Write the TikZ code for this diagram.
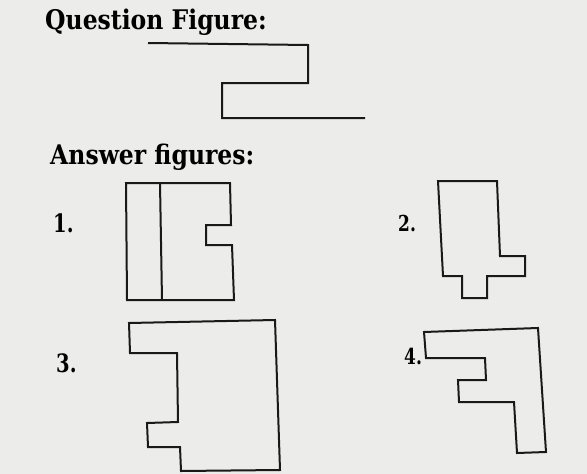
\documentclass[tikz,border=0pt]{standalone}
\usepackage{fontspec}
\usepackage{graphicx}
\setmainfont{DejaVu Serif}
\newcommand{\hd}[1]{\scalebox{1}[1.15]{#1}}
\newcommand{\nl}[1]{\scalebox{0.85}[1.1]{#1}}
\begin{document}
\begin{tikzpicture}[x=1pt,y=-1pt,
  fig/.style={line width=2pt,line join=miter,draw=black!90},
  head/.style={anchor=base west,inner sep=0pt,font=\fontsize{23.5}{28}\selectfont\bfseries},
  numL/.style={anchor=base west,inner sep=0pt,font=\fontsize{23}{27}\selectfont\bfseries},
  numR/.style={anchor=base west,inner sep=0pt,font=\fontsize{20}{24}\selectfont\bfseries}]
\definecolor{paper}{RGB}{236,236,234}
\fill[paper] (0,0) rectangle (587,474);
\useasboundingbox (0,0) rectangle (587,474);
% headings
\node[head] (qh) at (45,29) {\hd{Question Figure:}};
\node[head] (ah) at (50,164) {\hd{Answer figures:}};
% labels
\node[numL] (n1) at (53,232) {\nl{1.}};
\node[numR] (n2) at (398,231) {\nl{2.}};
\node[numL] (n3) at (56,372) {\nl{3.}};
\node[numR] (n4) at (404,364) {\nl{4.}};
% question figure
\draw[fig] (148,43) -- (308,45) -- (308,83) -- (222,83) -- (222,118) -- (365,118);
% answer figure 1
\draw[fig] (126,183) -- (230,183) -- (231,225) -- (206,225) -- (206,245) -- (232,245) -- (234,300) -- (127,300) -- cycle;
\draw[fig] (160,183) -- (162,300);
% answer figure 2
\draw[fig] (438,181) -- (497,181) -- (500,256) -- (525,256) -- (525,276) -- (487,276) -- (487,298) -- (462,298) -- (462,276) -- (443,276) -- cycle;
% answer figure 3
\draw[fig] (129,323) -- (275,320) -- (280,470) -- (181,471) -- (180,447) -- (148,447) -- (147,423) -- (178,422) -- (177,353) -- (130,353) -- cycle;
% answer figure 4
\draw[fig] (424,332) -- (538,328) -- (546,452) -- (517,453) -- (514,402) -- (459,402) -- (458,380) -- (486,380) -- (485,358) -- (426,358) -- cycle;
\end{tikzpicture}
\end{document}
